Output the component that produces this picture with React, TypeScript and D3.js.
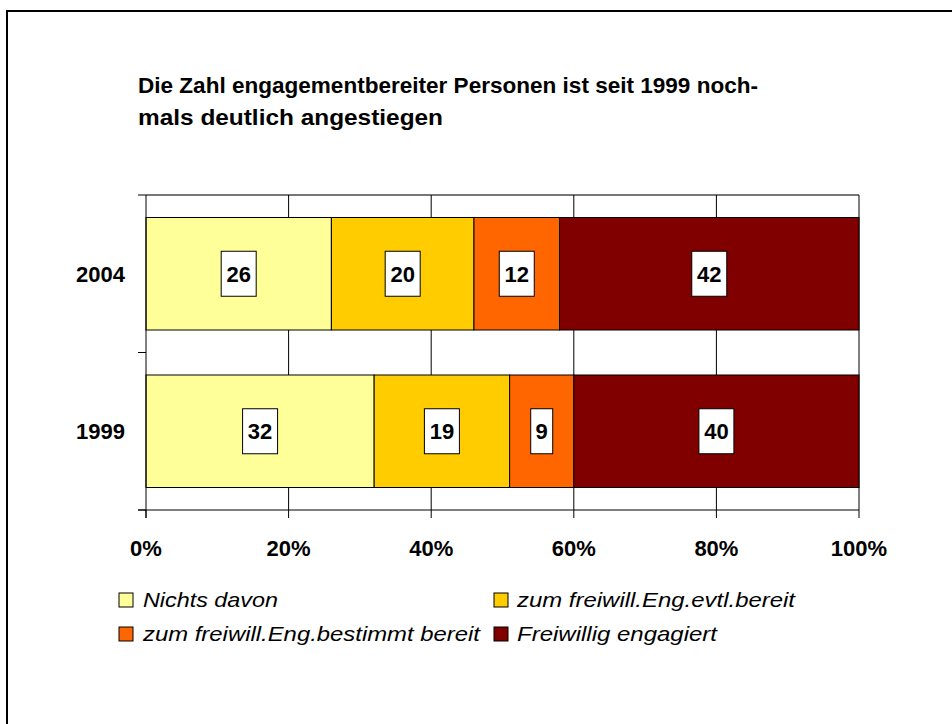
import React from "react";
import * as d3 from "d3";

const categories = ["2004", "1999"];
const seriesNames = [
  "Nichts davon",
  "zum freiwill.Eng.evtl.bereit",
  "zum freiwill.Eng.bestimmt bereit",
  "Freiwillig engagiert",
];
const seriesColors = ["#FFFF99", "#FFCC00", "#FF6600", "#800000"];
const values2004 = [26, 20, 12, 42];
const values1999 = [32, 19, 9, 40];
const xTicks = [0, 20, 40, 60, 80, 100];
const titleLines = [
  "Die Zahl engagementbereiter Personen ist seit 1999 noch-",
  "mals deutlich angestiegen",
];

const valuesByCat: Record<string, number[]> = { "2004": values2004, "1999": values1999 };

export default function App() {
  const left = 146;
  const right = 859;
  const top = 195;
  const bottom = 510;
  const font = "'Liberation Sans', Arial, Helvetica, sans-serif";

  const x = d3.scaleLinear().domain([0, 100]).range([left, right]);
  const y = d3
    .scaleBand<string>()
    .domain(categories)
    .range([top, bottom])
    .paddingInner(0.2857)
    .paddingOuter(0.14285);

  const stackData = categories.map((c) => {
    const obj: any = { cat: c };
    seriesNames.forEach((s, i) => (obj[s] = valuesByCat[c][i]));
    return obj;
  });
  const stacked = d3.stack<any>().keys(seriesNames)(stackData);

  const legendPos = [
    { mx: 119, tx: 143, y: 607, w: 135 },
    { mx: 494, tx: 517, y: 607, w: 278 },
    { mx: 119, tx: 143, y: 641, w: 337 },
    { mx: 494, tx: 517, y: 641, w: 200 },
  ];

  return (
    <div style={{ position: "fixed", left: 0, top: 0, width: 952, height: 724, overflow: "hidden", background: "#fff" }}>
      <svg width={952} height={724} style={{ display: "block" }} fontFamily={font}>
        <rect x={0} y={0} width={952} height={724} fill="#fff" />
        <line x1={7} x2={7} y1={10} y2={724} stroke="#000" strokeWidth={2} />
        <line x1={6} x2={952} y1={11} y2={11} stroke="#000" strokeWidth={2} />

        {titleLines.map((t, i) => (
          <text
            key={i}
            x={138}
            y={93 + i * 32}
            fontSize={22}
            fontWeight="bold"
            fill="#000"
            textLength={i === 0 ? 620 : 305}
            lengthAdjust="spacingAndGlyphs"
          >
            {t}
          </text>
        ))}

        {/* plot top border */}
        <line x1={left} x2={right} y1={top} y2={top} stroke="#777" strokeWidth={2} />
        {/* gridlines */}
        {xTicks.slice(1).map((t) => (
          <line key={t} x1={x(t)} x2={x(t)} y1={top} y2={bottom} stroke="#000" strokeWidth={1} />
        ))}

        {/* bars */}
        {stacked.map((layer, si) =>
          layer.map((d: any, ci: number) => (
            <rect
              key={si + "-" + ci}
              x={x(d[0])}
              y={y(d.data.cat)}
              width={x(d[1]) - x(d[0])}
              height={y.bandwidth()}
              fill={seriesColors[si]}
              stroke="#000"
              strokeWidth={1}
            />
          ))
        )}

        {/* data labels */}
        {stacked.map((layer, si) =>
          layer.map((d: any, ci: number) => {
            const v = d[1] - d[0];
            const cx = x((d[0] + d[1]) / 2);
            const cy = (y(d.data.cat) as number) + y.bandwidth() / 2;
            const w = String(v).length === 1 ? 22 : 35;
            return (
              <g key={"l" + si + "-" + ci}>
                <rect x={cx - w / 2} y={cy - 22.5} width={w} height={45} fill="#fff" stroke="#000" strokeWidth={1} />
                <text x={cx} y={cy + 8} textAnchor="middle" fontSize={22} fontWeight="bold" fill="#000">
                  {v}
                </text>
              </g>
            );
          })
        )}

        {/* y axis */}
        <line x1={left} x2={left} y1={top} y2={bottom + 8} stroke="#000" strokeWidth={1} />
        {[top, (y("1999") as number) - (y.step() - y.bandwidth()) / 2, bottom].map((v, i) => (
          <line key={i} x1={left - 8} x2={left} y1={v} y2={v} stroke="#000" strokeWidth={1} />
        ))}
        {categories.map((c) => (
          <text
            key={c}
            x={125}
            y={(y(c) as number) + y.bandwidth() / 2 + 8}
            textAnchor="end"
            fontSize={22}
            fontWeight="bold"
            fill="#000"
          >
            {c}
          </text>
        ))}

        {/* x axis */}
        <line x1={left - 8} x2={right} y1={bottom} y2={bottom} stroke="#000" strokeWidth={1} />
        {xTicks.map((t) => (
          <g key={t}>
            <line x1={x(t)} x2={x(t)} y1={bottom} y2={bottom + 8} stroke="#000" strokeWidth={1} />
            <text x={x(t)} y={556} textAnchor="middle" fontSize={22} fontWeight="bold" fill="#000">
              {t + "%"}
            </text>
          </g>
        ))}

        {/* legend */}
        {seriesNames.map((s, i) => (
          <g key={s}>
            <rect
              x={legendPos[i].mx}
              y={legendPos[i].y - 14}
              width={14}
              height={14}
              fill={seriesColors[i]}
              stroke="#000"
              strokeWidth={1}
            />
            <text
              x={legendPos[i].tx}
              y={legendPos[i].y}
              fontSize={21}
              fontStyle="italic"
              fill="#000"
              textLength={legendPos[i].w}
              lengthAdjust="spacingAndGlyphs"
            >
              {s}
            </text>
          </g>
        ))}
      </svg>
    </div>
  );
}
